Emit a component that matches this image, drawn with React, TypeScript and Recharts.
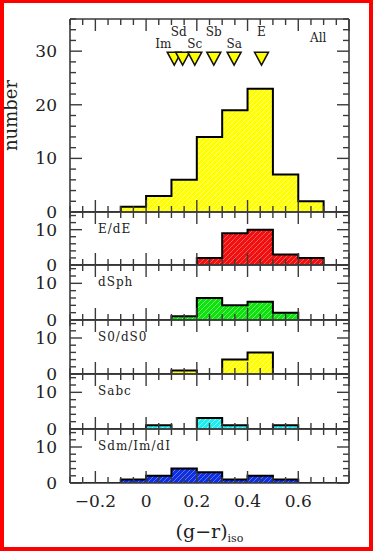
import React from 'react';
import { ComposedChart, Area, Scatter, XAxis, YAxis } from 'recharts';

// ---------- data ----------
const X_MIN = -0.3;
const X_MAX = 0.8;
const BIN_WIDTH = 0.1;
const binStarts = [-0.1, 0, 0.1, 0.2, 0.3, 0.4, 0.5, 0.6];

const allCounts = [1, 3, 6, 14, 19, 23, 7, 2];
const eDeCounts = [0, 0, 0, 2, 9, 10, 3, 2];
const dSphCounts = [0, 0, 1, 6, 4, 5, 2, 0];
const s0Counts = [0, 0, 1, 0, 4, 6, 0, 0];
const sabcCounts = [0, 1, 0, 3, 1, 0, 1, 0];
const sdmCounts = [1, 2, 4, 3, 1, 2, 1, 0];

const panelNames = ['E/dE', 'dSph', 'S0/dS0', 'Sabc', 'Sdm/Im/dI'];

const xTicks = [-0.3, -0.25, -0.2, -0.15, -0.1, -0.05, 0, 0.05, 0.1, 0.15, 0.2, 0.25, 0.3, 0.35, 0.4, 0.45, 0.5, 0.55, 0.6, 0.65, 0.7, 0.75, 0.8];
const xLabelTicks = [-0.2, 0, 0.2, 0.4, 0.6];
const topYTicks = [0, 2, 4, 6, 8, 10, 12, 14, 16, 18, 20, 22, 24, 26, 28, 30, 32, 34, 36];
const topYLabels = [0, 10, 20, 30];
const smallYTicks = [0, 2, 4, 6, 8, 10, 12, 14];
const smallYLabels = [0, 10];
const TOP_Y_MAX = 36;
const SMALL_Y_MAX = 15;

const markerNames = ['Im', 'Sd', 'Sc', 'Sb', 'Sa', 'E'];
const markerColors = [0.111, 0.144, 0.192, 0.267, 0.347, 0.455];
const MARKER_LEVEL = 30;

// ---------- styles ----------
const W = 373;
const H = 551;
const PLOT_LEFT = 70;
const PLOT_RIGHT = 349;
const PAD = 14;
const EXTRA_BOTTOM = 40;
const panelTops = [19, 212, 265, 320, 374, 429];
const PLOT_BOTTOM = 483;
const FONT = "'DejaVu Serif', serif";
const AXIS_COLOR = '#3a3a3a';
const TEXT_COLOR = '#222';

const panelStyles = [
  { fill: '#ffff00', hatch: '#ffffa8', id: 'h-all' },
  { fill: '#f01010', hatch: '#ff7070', id: 'h-e' },
  { fill: '#10e010', hatch: '#80ff80', id: 'h-dsph' },
  { fill: '#ffff00', hatch: '#ffffa8', id: 'h-s0' },
  { fill: '#20eeee', hatch: '#a0ffff', id: 'h-sabc' },
  { fill: '#1030e0', hatch: '#6f86ff', id: 'h-sdm' },
];

const markerLabelOffset: Record<string, [number, number]> = {
  Im: [-11, -7],
  Sd: [-4, -19],
  Sc: [0, -7],
  Sb: [0, -19],
  Sa: [0, -7],
  E: [0, -19],
};

// ---------- helpers ----------
function stepData(counts: number[]) {
  const pts: { x: number; y: number }[] = [{ x: X_MIN, y: 0 }];
  binStarts.forEach((b, i) => pts.push({ x: b, y: counts[i] }));
  pts.push({ x: binStarts[binStarts.length - 1] + BIN_WIDTH, y: 0 });
  pts.push({ x: X_MAX, y: 0 });
  return pts;
}

const near = (a: number, b: number) => Math.abs(a - b) < 1e-6;
const isMajorX = (v: number) => near(v / 0.2, Math.round(v / 0.2));
const fmtX = (v: number) => {
  if (near(v, 0)) return '0';
  const s = Math.abs(v).toFixed(1);
  return v < 0 ? '\u2212' + s : s;
};

const XTick = (props: any) => {
  const { x, y, payload, side, showLabels } = props;
  const v = payload.value;
  const major = isMajorX(v);
  const len = major ? 12 : 6;
  const dir = side === 'bottom' ? -1 : 1;
  const labelled = showLabels && side === 'bottom' && xLabelTicks.some((t) => near(t, v));
  return (
    <g>
      <line x1={x} x2={x} y1={y} y2={y + dir * len} stroke={AXIS_COLOR} strokeWidth={1.4} />
      {labelled && (
        <text x={x} y={y + 24} textAnchor="middle" fontFamily={FONT} fontSize={17} fill={TEXT_COLOR}>
          {fmtX(v)}
        </text>
      )}
    </g>
  );
};

const YTick = (props: any) => {
  const { x, y, payload, side, labels } = props;
  const v = payload.value;
  const major = near(v / 10, Math.round(v / 10));
  const len = major ? 12 : 6;
  const dir = side === 'left' ? 1 : -1;
  const labelled = side === 'left' && labels.some((t: number) => near(t, v));
  return (
    <g>
      <line x1={x} x2={x + dir * len} y1={y} y2={y} stroke={AXIS_COLOR} strokeWidth={1.4} />
      {labelled && (
        <text x={x - 13} y={y + 6} textAnchor="end" fontFamily={FONT} fontSize={17} fill={TEXT_COLOR}>
          {v}
        </text>
      )}
    </g>
  );
};

const MarkerShape = (props: any) => {
  const { cx, cy, payload } = props;
  const [dx, dy] = markerLabelOffset[payload.name] || [0, -7];
  return (
    <g>
      <polygon
        points={`${cx - 7},${cy + 1} ${cx + 7},${cy + 1} ${cx},${cy + 14}`}
        fill="#ffff00"
        stroke="#111"
        strokeWidth={1.5}
        strokeLinejoin="miter"
      />
      <text x={cx + dx} y={cy + dy + 4} textAnchor="middle" fontFamily={FONT} fontSize={12} fill={TEXT_COLOR}>
        {payload.name}
      </text>
    </g>
  );
};

type PanelProps = {
  index: number;
  counts: number[];
  label: string;
  yMax: number;
  yTicks: number[];
  yLabels: number[];
  isLast: boolean;
  isTop: boolean;
};

const Panel = ({ index, counts, label, yMax, yTicks, yLabels, isLast, isTop }: PanelProps) => {
  const top = panelTops[index];
  const bottom = index + 1 < panelTops.length ? panelTops[index + 1] : PLOT_BOTTOM;
  const plotH = bottom - top;
  const extra = isLast ? EXTRA_BOTTOM : 0;
  const height = plotH + 2 * PAD + extra;
  const style = panelStyles[index];
  const data = stepData(counts);
  const markers = markerNames.map((name, i) => ({ name, x: markerColors[i], y: MARKER_LEVEL }));

  return (
    <div style={{ position: 'absolute', left: 0, top: top - PAD, width: W, height }}>
      <ComposedChart
        width={W}
        height={height}
        data={data}
        margin={{ top: PAD - 1, bottom: PAD - 1 + extra, left: PLOT_LEFT - 1, right: W - PLOT_RIGHT - 1 }}
      >
        <Area
          xAxisId="b"
          yAxisId="l"
          type="stepAfter"
          dataKey="y"
          stroke="#000"
          strokeWidth={2}
          fill={`url(#${style.id})`}
          fillOpacity={1}
          dot={false}
          activeDot={false}
          isAnimationActive={false}
        />
        {isTop && (
          <Scatter
            xAxisId="b"
            yAxisId="l"
            data={markers}
            dataKey="y"
            shape={(p: any) => <MarkerShape {...p} />}
            isAnimationActive={false}
          />
        )}
        <XAxis
          xAxisId="b"
          orientation="bottom"
          type="number"
          dataKey="x"
          domain={[X_MIN, X_MAX]}
          ticks={xTicks}
          interval={0}
          height={1}
          tickSize={0}
          tickMargin={0}
          tickLine={false}
          axisLine={{ stroke: AXIS_COLOR, strokeWidth: 1.6 }}
          allowDataOverflow
          tick={(p: any) => <XTick {...p} side="bottom" showLabels={isLast} />}
        />
        <XAxis
          xAxisId="t"
          orientation="top"
          type="number"
          dataKey="x"
          domain={[X_MIN, X_MAX]}
          ticks={xTicks}
          interval={0}
          height={1}
          tickSize={0}
          tickMargin={0}
          tickLine={false}
          axisLine={{ stroke: AXIS_COLOR, strokeWidth: 1.6 }}
          allowDataOverflow
          tick={(p: any) => <XTick {...p} side="top" showLabels={false} />}
        />
        <YAxis
          yAxisId="l"
          orientation="left"
          type="number"
          domain={[0, yMax]}
          ticks={yTicks}
          interval={0}
          width={1}
          tickSize={0}
          tickMargin={0}
          tickLine={false}
          axisLine={{ stroke: AXIS_COLOR, strokeWidth: 1.6 }}
          allowDataOverflow
          tick={(p: any) => <YTick {...p} side="left" labels={yLabels} />}
        />
        <YAxis
          yAxisId="r"
          orientation="right"
          type="number"
          domain={[0, yMax]}
          ticks={yTicks}
          interval={0}
          width={1}
          tickSize={0}
          tickMargin={0}
          tickLine={false}
          axisLine={{ stroke: AXIS_COLOR, strokeWidth: 1.6 }}
          allowDataOverflow
          tick={(p: any) => <YTick {...p} side="right" labels={yLabels} />}
        />
      </ComposedChart>
      <div
        style={{
          position: 'absolute',
          left: isTop ? 310 : 98,
          top: PAD + (isTop ? 12 : 10),
          fontFamily: FONT,
          fontSize: 12,
          letterSpacing: isTop ? 0 : 1,
          color: TEXT_COLOR,
          lineHeight: '14px',
          whiteSpace: 'nowrap',
        }}
      >
        {label}
      </div>
    </div>
  );
};

export default function App() {
  const panels = [allCounts, eDeCounts, dSphCounts, s0Counts, sabcCounts, sdmCounts];
  return (
    <div style={{ position: 'absolute', left: 0, top: 0, width: W, height: H, background: '#fff' }}>
      <svg width={W} height={H} style={{ position: 'absolute', left: 0, top: 0 }}>
        <defs>
          {panelStyles.map((s) => (
            <pattern key={s.id} id={s.id} patternUnits="userSpaceOnUse" width={5} height={5}>
              <rect width={5} height={5} fill={s.fill} />
              <path d="M-1,1 l2,-2 M0,5 l5,-5 M4,6 l2,-2" stroke={s.hatch} strokeWidth={0.8} />
            </pattern>
          ))}
        </defs>
        <text
          transform="translate(16.5,115.5) rotate(-90)"
          textAnchor="middle"
          fontFamily={FONT}
          fontSize={18}
          fill={TEXT_COLOR}
        >
          number
        </text>
        <text x={209.5} y={538} textAnchor="middle" fontFamily={FONT} fontSize={19} fill={TEXT_COLOR}>
          (g{'\u2212'}r)
          <tspan fontSize={11} dy={4}>iso</tspan>
        </text>
      </svg>
      {panels.map((counts, i) => (
        <Panel
          key={i}
          index={i}
          counts={counts}
          label={i === 0 ? 'All' : panelNames[i - 1]}
          yMax={i === 0 ? TOP_Y_MAX : SMALL_Y_MAX}
          yTicks={i === 0 ? topYTicks : smallYTicks}
          yLabels={i === 0 ? topYLabels : smallYLabels}
          isLast={i === panels.length - 1}
          isTop={i === 0}
        />
      ))}
      <div
        style={{
          position: 'absolute',
          left: 0,
          top: 0,
          width: W,
          height: H,
          boxSizing: 'border-box',
          borderStyle: 'solid',
          borderColor: '#ff0000',
          borderWidth: '3px 4px 4px 4px',
          pointerEvents: 'none',
        }}
      />
    </div>
  );
}
